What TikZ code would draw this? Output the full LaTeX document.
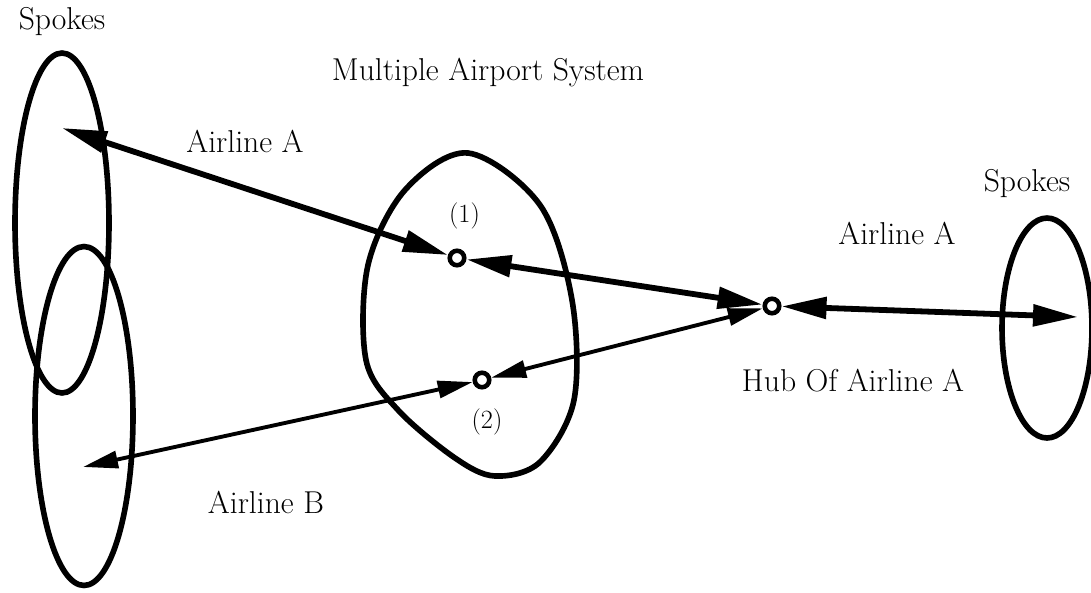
\documentclass[tikz,border=0pt]{standalone}
\usetikzlibrary{arrows.meta, positioning, shapes.geometric}
\tikzset{
  spokes/.style={ellipse,draw,line width=3.2pt,inner sep=0pt},
  airport/.style={circle,draw,line width=2.6pt,inner sep=0pt,minimum size=2.9mm},
  lbl/.style={font=\fontsize{18}{21}\selectfont,inner sep=1pt},
  numlbl/.style={font=\fontsize{15}{18}\selectfont,inner sep=1pt},
  linkA/.style={{Triangle[length=9mm,width=4.2mm]}-{Triangle[length=9mm,width=4.2mm]},line width=3.3pt},
  linkB/.style={{Triangle[length=7mm,width=3.4mm]}-{Triangle[length=7mm,width=3.4mm]},line width=2.2pt}
}

\begin{document}
\begin{tikzpicture}[x=0.02cm,y=-0.02cm]
\useasboundingbox (0,0) rectangle (1091,592);

% spoke regions
\node[spokes,minimum width=1.88cm,minimum height=6.8cm] (spk1) at (62,223) {};
\node[spokes,minimum width=1.96cm,minimum height=6.78cm] (spk2) at (84,416) {};
\node[spokes,minimum width=1.8cm,minimum height=4.4cm] (spk3) at (1047,328) {};

% multiple airport system
\draw[line width=3.2pt] plot[smooth cycle,tension=0.55] coordinates {
  (468,153) (540,205) (572,300) (574,400) (540,462) (495,476)
  (455,458) (398,410) (366,360) (368,265) (405,190)};

% airports
\node[airport] (ap1) at (457,258) {};
\node[airport] (ap2) at (482,380) {};
\node[airport] (hub) at (772,306) {};

\coordinate (endA1) at (62,128);
\coordinate (endA2) at (1078,317);
\coordinate (endB) at (83,467);

% labels
\node[lbl] (spokesL) at (62,22) {Spokes};
\node[lbl] (mas) at (488,73) {Multiple Airport System};
\node[lbl] (airA1) at (245,141) {Airline A};
\node[lbl] (spokesR) at (1027,184) {Spokes};
\node[lbl] (airA2) at (897,233) {Airline A};
\node[lbl] (hubl) at (853,381) {Hub Of Airline A};
\node[lbl] (airB) at (266,502) {Airline B};
\node[numlbl, above=3.5mm of ap1, xshift=1.5mm] (n1) {(1)};
\node[numlbl, below=3.5mm of ap2, xshift=1mm] (n2) {(2)};

% routes
\draw[linkA] (endA1) -- (ap1);
\draw[linkA] (ap1) -- (hub);
\draw[linkA] (hub) -- (endA2);
\draw[linkB] (ap2) -- (hub);
\draw[linkB] (endB) -- (ap2);
\end{tikzpicture}
\end{document}
